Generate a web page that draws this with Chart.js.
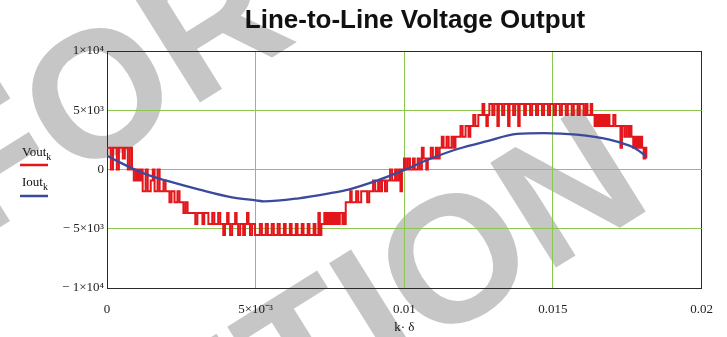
<!DOCTYPE html>
<html>
<head>
<meta charset="utf-8">
<script src="https://cdn.jsdelivr.net/npm/chart.js@4/dist/chart.umd.min.js"></script>
<style>
  html, body { margin: 0; padding: 0; background: #fff; }
  #wrap { width: 727px; height: 337px; }
</style>
</head>
<body>
<div id="wrap"><canvas id="c" width="727" height="337"></canvas></div>
<script>
// Line-to-line inverter output: stepped voltage Vout and load current Iout over one cycle.
// Times are in milliseconds, voltages in volts. Each Vout entry is the level held from that time on.
const voutTimeMs = [
  0, 0.13, 0.20, 0.33, 0.40, 0.53, 0.60, 0.70, 0.77, 0.84,
  0.90, 0.97, 1.02, 1.07, 1.12, 1.17,
  1.20, 1.30, 1.37, 1.47, 1.54, 1.60, 1.70, 1.77,
  1.90, 1.97, 2.10, 2.17, 2.27,
  2.37, 2.44, 2.57, 2.64, 2.71,
  2.97, 3.04, 3.21, 3.27, 3.41,
  3.54, 3.61, 3.74, 3.81,
  3.91, 3.97, 4.04, 4.09, 4.14, 4.21, 4.31, 4.36, 4.41, 4.48, 4.58, 4.64, 4.71, 4.76, 4.81, 4.88, 4.98,
  5.14, 5.21, 5.34, 5.41, 5.54, 5.61, 5.74, 5.81, 5.95, 6.01, 6.15, 6.21, 6.35, 6.41, 6.55, 6.61, 6.75, 6.81, 6.95, 7.01,
  7.11, 7.16, 7.21,
  7.31, 7.36, 7.41, 7.46, 7.52, 7.57, 7.62, 7.67, 7.72, 7.78, 7.83, 7.92, 7.97, 8.00, 8.03,
  8.18, 8.23, 8.38, 8.45, 8.55, 8.75, 8.82, 8.95, 9.02,
  9.12, 9.18, 9.25, 9.35, 9.42, 9.52, 9.59, 9.69, 9.75,
  9.82, 9.87, 9.92, 9.99, 10.05, 10.12, 10.19, 10.29, 10.35, 10.45, 10.52, 10.59, 10.65, 10.74, 10.79,
  10.89, 10.96, 11.06, 11.12, 11.19, 11.26, 11.32, 11.42, 11.49, 11.59, 11.66,
  11.72, 11.89, 11.96, 12.06, 12.16, 12.22, 12.32, 12.39, 12.49,
  12.63, 12.69, 12.76, 12.81, 12.86,
  12.96, 13.03, 13.13, 13.18, 13.29, 13.36, 13.49, 13.54, 13.66, 13.73, 13.83, 13.88,
  14.03, 14.09, 14.23, 14.30, 14.43, 14.50, 14.63, 14.70, 14.83, 14.90, 15.03, 15.10,
  15.23, 15.30, 15.43, 15.50, 15.63, 15.70, 15.83, 15.90, 16.03, 16.10, 16.16,
  16.27, 16.32, 16.40, 16.45, 16.50, 16.55, 16.60, 16.65, 16.70, 16.75, 16.80, 16.85,
  16.90, 17.03, 17.10, 17.27, 17.32, 17.40, 17.47, 17.54, 17.59, 17.64,
  17.70, 17.75, 17.80, 17.85, 17.90, 17.95, 18.00, 18.05, 18.10, 18.14
];
const voutVolts = [
  1840, 0, 1840, 0, 1840, 920, 1840, 0, 1840, 0,
  -920, 0, -920, 0, -920, 0,
  -1840, 0, -1840, -920, 0, -1840, 0, -1840,
  -920, -1840, -2760, -1840, -2760,
  -1840, -2760, -3680, -2760, -3680,
  -4600, -3680, -4600, -3680, -4600,
  -3680, -4600, -3680, -4600,
  -5520, -4600, -3680, -4600, -5520, -4600, -3680, -4600, -5520, -4600, -5520, -4600, -3680, -4600, -5520, -4600, -5520,
  -4600, -5520, -4600, -5520, -4600, -5520, -4600, -5520, -4600, -5520, -4600, -5520, -4600, -5520, -4600, -5520, -4600, -5520, -4600, -5520,
  -3680, -5520, -4600,
  -3680, -4600, -3680, -4600, -3680, -4600, -3680, -4600, -3680, -4600, -3680, -4600, -3680, -4600, -2760,
  -1840, -2760, -1840, -2760, -1840, -2760, -1840, -920, -1840,
  -920, -1840, -920, -1840, -920, 0, -920, 0, -920,
  0, -1840, 0, 920, 0, 920, 0, 920, 0, 920, 0, 1840, 920, 0, 920,
  1840, 920, 1840, 920, 1840, 2760, 1840, 2760, 1840, 2760, 1840,
  2760, 3680, 2760, 3680, 2760, 3680, 4600, 3680, 4600,
  5520, 4600, 3680, 4600, 5520,
  4600, 5520, 3680, 5520, 4600, 5520, 3680, 5520, 4600, 5520, 3680, 5520,
  4600, 5520, 4600, 5520, 4600, 5520, 4600, 5520, 4600, 5520, 4600, 5520,
  4600, 5520, 4600, 5520, 4600, 5520, 4600, 5520, 4600, 5520, 4600,
  5520, 4600, 3680, 4600, 3680, 4600, 3680, 4600, 3680, 4600, 3680, 4600,
  3680, 4600, 3680, 1840, 3680, 2760, 3680, 2760, 3680, 2760,
  1840, 2760, 1840, 2760, 1840, 2760, 1840, 920, 1840, 920
];
const ioutTimeMs = [0, 0.43, 0.94, 1.44, 2.00, 3.11, 4.21, 5.01, 5.28, 6.45, 7.55, 8.12, 9.12, 9.95, 10.79, 11.79, 12.79, 13.79, 14.70, 15.80, 16.90, 17.57, 17.80, 18.14];
const ioutValues = [1160, 600, 0, -520, -945, -1700, -2350, -2600, -2690, -2430, -1980, -1700, -900, -100, 820, 1730, 2400, 3000, 3070, 2940, 2520, 2010, 1730, 1100];

const xTickValues = [0, 0.005, 0.01, 0.015, 0.02];
const xTickLabels = ['0', '5×10⁻³', '0.01', '0.015', '0.02'];
const yTickValues = [-10000, -5000, 0, 5000, 10000];
const yTickLabels = ['− 1×10⁴', '− 5×10³', '0', '5×10³', '1×10⁴'];

const seriesNames = ['Vout', 'Iout'];
const seriesColors = ['#e3161b', '#3a4a9c'];

const serif = '"Liberation Serif", "Times New Roman", serif';
const sans = '"Liberation Sans", Arial, Helvetica, sans-serif';
const frameColor = '#2a2a2a';
const gridColor = '#8cc84f';

const voutPoints = voutTimeMs.map((t, i) => ({ x: t / 1000, y: voutVolts[i] }));
const ioutPoints = ioutTimeMs.map((t, i) => ({ x: t / 1000, y: ioutValues[i] }));

function drawSubscripted(ctx, main, sub, x, y, size) {
  ctx.font = size + 'px ' + serif;
  ctx.fillText(main, x, y);
  const w = ctx.measureText(main).width;
  ctx.font = Math.round(size * 0.75) + 'px ' + serif;
  ctx.fillText(sub, x + w, y + size * 0.28);
}

const decorations = {
  id: 'decorations',
  beforeDraw(chart) {
    const ctx = chart.ctx;
    ctx.save();
    ctx.fillStyle = '#ffffff';
    ctx.fillRect(0, 0, chart.width, chart.height);
    // large grey diagonal stamp behind the plot
    ctx.fillStyle = '#c6c6c6';
    ctx.font = 'bold 180px ' + sans;
    ctx.textAlign = 'right';
    ctx.textBaseline = 'alphabetic';
    ctx.save();
    ctx.translate(300, 40);
    ctx.rotate(-32 * Math.PI / 180);
    ctx.fillText('FOR', 0, 0);
    ctx.restore();
    ctx.save();
    ctx.translate(656, 205);
    ctx.rotate(-32 * Math.PI / 180);
    ctx.fillText('DISTRIBUTION', 0, 0);
    ctx.restore();
    ctx.restore();
  },
  afterDraw(chart) {
    const ctx = chart.ctx;
    const area = chart.chartArea;
    ctx.save();
    // title
    ctx.fillStyle = '#111';
    ctx.textAlign = 'center';
    ctx.textBaseline = 'alphabetic';
    ctx.font = 'bold 26px ' + sans;
    ctx.fillText('Line-to-Line Voltage Output', 415, 28);
    // legend: name above a short sample line
    ctx.textAlign = 'left';
    ctx.fillStyle = '#111';
    drawSubscripted(ctx, seriesNames[0], 'k', 22, 156, 13);
    drawSubscripted(ctx, seriesNames[1], 'k', 22, 186, 13);
    ctx.lineWidth = 2.5;
    ctx.strokeStyle = seriesColors[0];
    ctx.beginPath(); ctx.moveTo(20, 165); ctx.lineTo(48, 165); ctx.stroke();
    ctx.strokeStyle = seriesColors[1];
    ctx.beginPath(); ctx.moveTo(20, 196); ctx.lineTo(48, 196); ctx.stroke();
    // x axis caption
    ctx.fillStyle = '#111';
    ctx.textAlign = 'center';
    ctx.font = '13px ' + serif;
    ctx.fillText('k· δ', (area.left + area.right) / 2, 331);
    ctx.restore();
  }
};

new Chart(document.getElementById('c'), {
  type: 'line',
  data: {
    datasets: [
      {
        label: seriesNames[1],
        data: ioutPoints,
        borderColor: seriesColors[1],
        borderWidth: 2.3,
        pointRadius: 0,
        tension: 0.4,
        cubicInterpolationMode: 'monotone',
        fill: false,
        order: 0
      },
      {
        label: seriesNames[0],
        data: voutPoints,
        borderColor: seriesColors[0],
        borderWidth: 2,
        pointRadius: 0,
        stepped: true,
        fill: false,
        order: 1
      }
    ]
  },
  options: {
    responsive: false,
    animation: false,
    devicePixelRatio: 1,
    layout: { padding: { top: 51, right: 21, left: 0, bottom: 0 } },
    plugins: {
      legend: { display: false },
      title: { display: false },
      tooltip: { enabled: false }
    },
    scales: {
      x: {
        type: 'linear',
        min: 0,
        max: 0.02,
        afterBuildTicks: s => { s.ticks = xTickValues.map(v => ({ value: v })); },
        afterFit: s => { s.height = 49; },
        grid: {
          color: c => (c.tick && (c.tick.value === 0 || c.tick.value === 0.02)) ? frameColor : gridColor,
          lineWidth: 1,
          drawTicks: false
        },
        border: { display: true, color: frameColor, width: 1 },
        ticks: {
          padding: 14,
          color: '#222',
          maxRotation: 0,
          autoSkip: false,
          font: { family: serif, size: 13 },
          callback: (v, i) => xTickLabels[i]
        }
      },
      y: {
        type: 'linear',
        min: -10000,
        max: 10000,
        afterBuildTicks: s => { s.ticks = yTickValues.map(v => ({ value: v })); },
        afterFit: s => { s.width = 107; },
        grid: {
          color: c => (c.tick && (c.tick.value === -10000 || c.tick.value === 10000)) ? frameColor : gridColor,
          lineWidth: 1,
          drawTicks: false
        },
        border: { display: true, color: frameColor, width: 1 },
        ticks: {
          padding: 3,
          color: '#222',
          autoSkip: false,
          font: { family: serif, size: 13 },
          callback: (v, i) => yTickLabels[i]
        }
      }
    }
  },
  plugins: [decorations]
});
</script>
</body>
</html>
